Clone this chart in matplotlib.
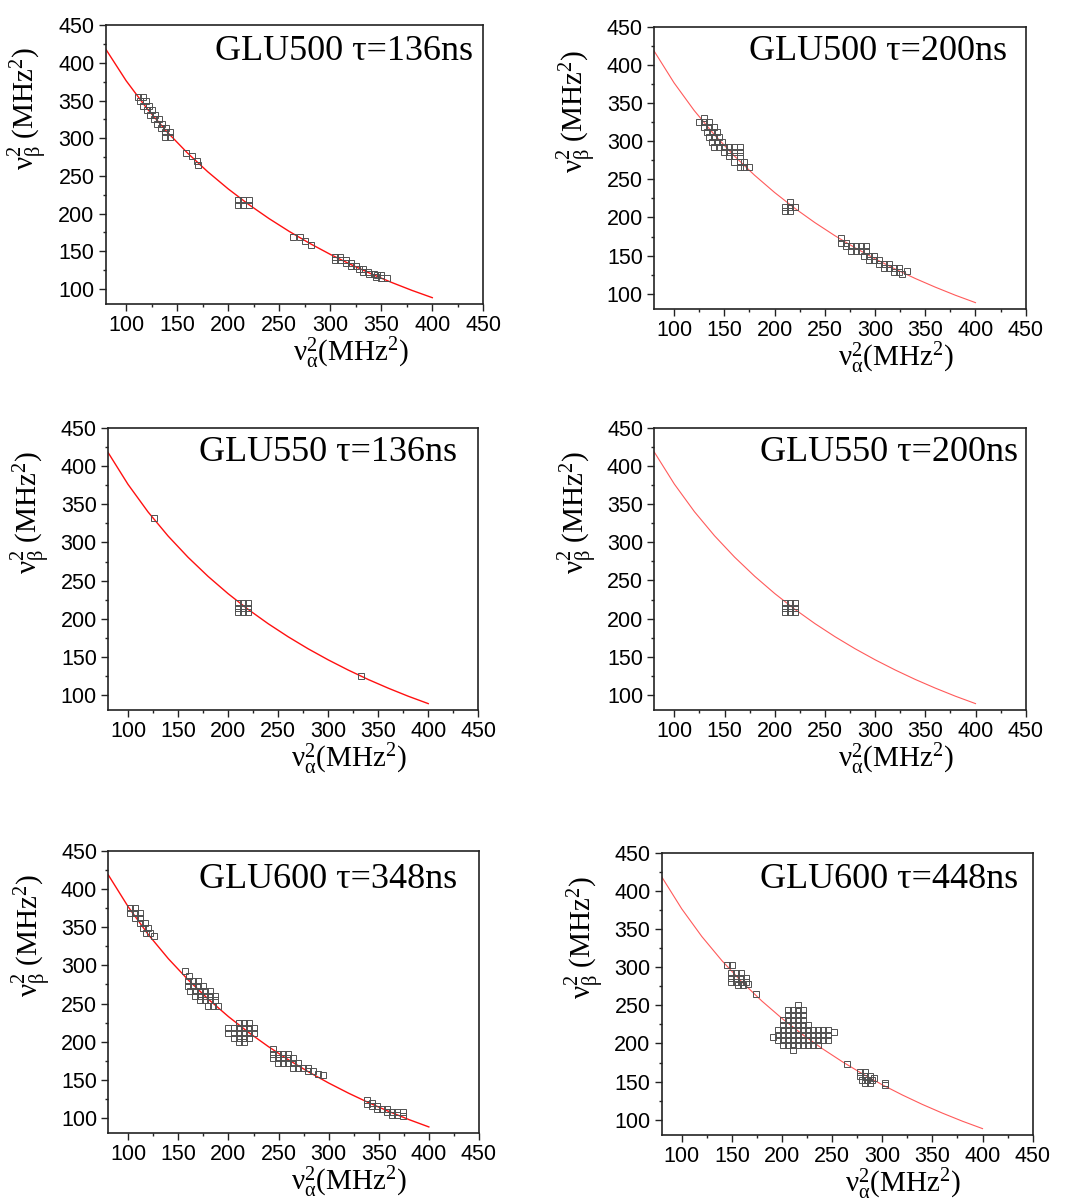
import matplotlib
matplotlib.use('Agg')
import matplotlib.pyplot as plt
from matplotlib.ticker import MultipleLocator

plt.rcParams['font.family'] = ['Liberation Sans', 'DejaVu Sans']
plt.rcParams['mathtext.fontset'] = 'custom'
plt.rcParams['mathtext.rm'] = 'Liberation Serif'
plt.rcParams['mathtext.it'] = 'Liberation Serif:italic'
plt.rcParams['mathtext.bf'] = 'Liberation Serif:bold'

# red reference curve
curve_x = [80, 100, 120, 140, 160, 180, 200, 220, 240, 260, 280, 300, 320, 340, 360, 380, 400]
curve_y = [418.4, 376.4, 340.2, 308.6, 280.6, 255.5, 232.8, 212.2, 193.4, 176.2, 160.4,
           145.9, 132.5, 120.1, 108.7, 98.1, 88.4]

titles = ['GLU500 \u03c4=136ns', 'GLU500 \u03c4=200ns',
          'GLU550 \u03c4=136ns', 'GLU550 \u03c4=200ns',
          'GLU600 \u03c4=348ns', 'GLU600 \u03c4=448ns']

# square markers (nu_alpha^2, nu_beta^2)
glu500_136 = [
    (112, 355), (117, 355), (114, 349), (119, 349), (117, 343), (122, 343), (120, 337), (125, 337),
    (123, 331), (128, 331), (127, 325), (132, 325), (130, 319), (135, 319), (134, 313), (139, 313),
    (138, 308), (143, 308), (138, 302), (143, 302),
    (159, 280), (165, 277), (169, 270), (170, 264),
    (210, 212), (215, 212), (220, 212), (210, 218.5), (215, 218.5), (220, 218.5),
    (264, 169), (270, 169), (275, 163), (281, 158),
    (305, 143), (310, 143), (305, 138), (310, 138), (315, 138), (315, 134), (320, 134), (320, 130),
    (325, 130), (328, 127), (332, 127), (332, 123), (337, 123), (338, 120), (343, 120), (346, 118),
    (350, 118), (345, 116), (350, 115), (356, 114)]

glu500_200 = [
    (130, 331), (125, 325), (130, 325), (135, 325), (130, 319), (135, 319), (140, 319),
    (133, 312), (138, 312), (143, 312), (135, 306), (140, 306), (145, 306),
    (138, 299), (143, 299), (148, 299),
    (140, 293), (145, 293), (150, 293), (155, 293), (160, 293), (166, 293),
    (150, 286), (155, 286), (160, 286), (166, 286), (155, 280), (160, 280), (166, 280),
    (160, 273), (166, 273), (170, 273), (166, 266), (170, 266), (175, 266),
    (215, 220), (210, 214), (215, 214), (220, 214), (210, 208), (215, 208),
    (266, 173), (266, 167), (271, 167), (271, 162), (276, 162), (281, 162), (286, 162), (291, 162),
    (276, 156), (281, 156), (286, 156), (291, 156), (289, 150), (294, 150), (299, 150),
    (294, 144), (299, 144), (304, 144), (304, 139), (309, 139), (314, 139), (309, 134),
    (314, 134), (319, 134), (319, 129), (324, 129), (324, 134), (327, 126), (332, 130)]

glu550_136 = [
    (126, 332),
    (210, 208.5), (215, 208.5), (220, 208.5), (210, 214.5), (215, 214.5), (220, 214.5),
    (210, 220.5), (215, 220.5), (220, 220.5),
    (333, 125)]

glu550_200 = [
    (210, 208.5), (215, 208.5), (220, 208.5), (210, 214.5), (215, 214.5), (220, 214.5),
    (210, 220.5), (215, 220.5), (220, 220.5)]

glu600_348 = [
    (102, 375), (107, 375), (102, 368), (107, 368), (112, 368), (107, 362), (112, 362),
    (112, 355), (117, 355), (115, 349), (120, 349), (118, 342), (122, 342), (126, 339),
    (157, 293), (161, 286), (160, 280), (165, 280), (170, 280), (160, 273), (165, 273),
    (170, 273), (175, 273), (162, 267), (167, 267), (172, 267), (177, 267), (182, 267),
    (167, 260), (172, 260), (177, 260), (182, 260), (187, 260), (172, 254), (177, 254),
    (182, 254), (187, 254), (180, 247), (185, 247), (190, 247),
    (210, 225), (215, 225), (220, 225), (200, 218), (205, 218), (210, 218), (215, 218),
    (220, 218), (225, 218), (200, 212), (205, 212), (210, 212), (215, 212), (220, 212),
    (225, 212), (205, 205), (210, 205), (215, 205), (220, 205), (210, 199), (215, 199),
    (244, 190), (244, 184), (249, 184), (254, 184), (259, 184), (244, 178), (249, 178),
    (254, 178), (259, 178), (264, 178), (249, 172), (254, 172), (259, 172), (264, 172),
    (269, 172), (264, 166), (269, 166), (274, 166), (279, 166), (279, 162), (284, 162),
    (289, 158), (294, 157),
    (338, 124), (338, 118), (343, 120), (343, 116), (348, 116), (348, 112), (353, 112),
    (358, 112), (358, 108), (363, 108), (363, 104), (368, 108), (368, 104), (374, 108),
    (374, 103)]

glu600_448 = [
    (145, 303), (150, 303), (149, 292), (154, 292), (159, 292), (149, 286), (154, 286),
    (159, 286), (164, 286), (149, 280), (154, 280), (159, 280), (164, 280), (156, 276),
    (161, 276), (166, 278), (174, 265),
    (216, 250),
    (206, 243.5), (211, 243.5), (216, 243.5), (221, 243.5),
    (206, 237), (211, 237), (216, 237), (221, 237),
    (201, 230.5), (206, 230.5), (211, 230.5), (216, 230.5), (221, 230.5),
    (201, 224), (206, 224), (211, 224), (216, 224), (221, 224), (226, 224),
    (196, 217.5), (201, 217.5), (206, 217.5), (211, 217.5), (216, 217.5), (221, 217.5),
    (226, 217.5), (231, 217.5), (236, 217.5), (241, 217.5), (246, 217.5),
    (196, 211), (201, 211), (206, 211), (211, 211), (216, 211), (221, 211),
    (226, 211), (231, 211), (236, 211), (241, 211), (246, 211),
    (196, 204.5), (201, 204.5), (206, 204.5), (211, 204.5), (216, 204.5), (221, 204.5),
    (226, 204.5), (231, 204.5), (236, 204.5), (241, 204.5), (246, 204.5),
    (201, 198), (206, 198), (211, 198), (216, 198), (221, 198), (226, 198), (231, 198),
    (236, 198), (211, 191.5), (191, 209), (252, 215),
    (265, 173), (278, 162), (283, 162), (278, 157), (283, 157), (288, 157), (292, 155),
    (280, 152), (285, 152), (290, 152), (288, 148), (283, 148), (303, 148), (303, 145)]

panels = [glu500_136, glu500_200, glu550_136, glu550_200, glu600_348, glu600_448]

# layout (figure fractions) and per-panel text placement
rects = [[0.0988, 0.7473, 0.3529, 0.2317], [0.6112, 0.7431, 0.3474, 0.2347],
         [0.1009, 0.4098, 0.3461, 0.2342], [0.6115, 0.4098, 0.3471, 0.2344],
         [0.1012, 0.0579, 0.3464, 0.2349], [0.6184, 0.0565, 0.3467, 0.2347]]
title_pos = [(0.973, 0.875), (0.950, 0.882), (0.943, 0.884),
             (0.980, 0.883), (0.941, 0.867), (0.961, 0.874)]
curve_style = [('#ff1010', 1.0), ('#ff5a5a', 0.8), ('#ff1010', 1.0),
               ('#ff5a5a', 0.8), ('#ff1010', 1.0), ('#ff5a5a', 0.8)]

fig = plt.figure(figsize=(10.7, 12.03), dpi=100)

for i in range(6):
    ax = fig.add_axes(rects[i])
    col, lw = curve_style[i]
    ax.plot(curve_x, curve_y, color=col, lw=lw, zorder=2)
    xs = [p[0] for p in panels[i]]
    ys = [p[1] for p in panels[i]]
    ax.plot(xs, ys, ls='none', marker='s', ms=4.3, mfc='none', mec='#505050', mew=0.7, zorder=3)

    ax.set_xlim(80, 450)
    ax.set_ylim(80, 450)
    ax.xaxis.set_minor_locator(MultipleLocator(25))
    ax.yaxis.set_minor_locator(MultipleLocator(25))
    ax.set_xticks([100, 150, 200, 250, 300, 350, 400, 450])
    ax.set_yticks([100, 150, 200, 250, 300, 350, 400, 450])
    ax.tick_params(which='both', direction='out', top=False, right=False,
                   width=1.0, colors='#222222', labelcolor='black', labelsize=15.5, pad=3)
    ax.tick_params(which='major', length=5)
    ax.tick_params(which='minor', length=2.5)
    for sp in ax.spines.values():
        sp.set_linewidth(1.2)
        sp.set_color('#222222')

    ax.set_xlabel(r'$\mathrm{\nu_{\alpha}^{2}}$(MHz$^{2}$)', fontsize=21, family='Liberation Serif')
    ax.set_ylabel(r'$\mathrm{\nu_{\beta}^{2}}$ (MHz$^{2}$)', fontsize=21, family='Liberation Serif')
    ax.xaxis.set_label_coords(0.65, -0.112)
    ax.yaxis.set_label_coords(-0.15, 0.70)

    tx, ty = title_pos[i]
    ax.text(tx, ty, titles[i], transform=ax.transAxes, ha='right', va='baseline',
            fontsize=26, family='Liberation Serif')

fig.savefig('out.png', dpi=100)
